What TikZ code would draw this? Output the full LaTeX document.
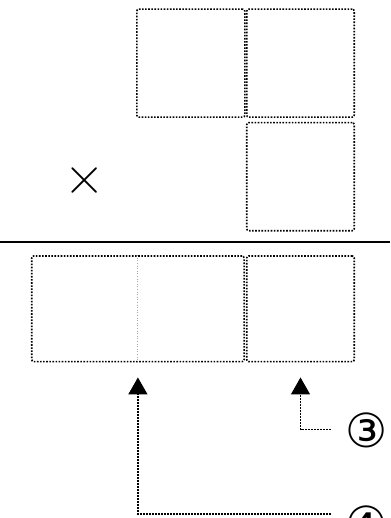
\documentclass[tikz,border=0pt]{standalone}
\usepackage{fontspec}
\newfontfamily\symfont{DejaVu Sans}
\usetikzlibrary{arrows.meta,positioning,calc}

\begin{document}
\begin{tikzpicture}[
  x=1pt, y=-1pt,
  sq/.style={draw, rectangle, rounded corners=2pt, line width=1.6pt,
             dash pattern=on 1.6pt off 1.5pt, inner sep=0pt},
  lnk/.style={-{Triangle[length=17pt,width=19pt]}, line width=1.4pt,
              dash pattern=on 1.4pt off 1.6pt, shorten >=15pt},
  num/.style={font=\symfont\fontsize{47}{47}\selectfont, inner sep=0pt},
]
\useasboundingbox (0,0) rectangle (390,518);
% top arrangement
\node[sq, minimum width=108pt, minimum height=108pt] (TL) at (190.8,63.2) {};
\node[sq, minimum width=107.5pt, minimum height=108pt] (TR) at (300.5,63.2) {};
\node[sq, minimum width=107.5pt, minimum height=108pt] (BR) at (300.5,176.7) {};
\node[font=\fontsize{56}{56}\selectfont, inner sep=0pt] (X) at (84.5,180.5) {×};
% separator
\draw[line width=2.2pt] (0,241.8) -- (390,241.8);
% bottom arrangement
\node[sq, minimum width=212.3pt, minimum height=105.7pt] (L) at (137.9,308.8) {};
\node[sq, minimum width=107.5pt, minimum height=105.7pt] (R) at (300.5,308.8) {};
\draw[line width=1pt, gray!70, dash pattern=on 1pt off 1.6pt] (L.north) -- (L.south);
% labels
\node[num] (n3) at (367,430.5) {③};
\node[num] (n4) at (367,523) {④};
\coordinate (c3) at (330.7,429.3);
\coordinate (c4) at (330.7,514);
\draw[lnk] (c3) -| (R.south);
\draw[lnk] (c4) -| (L.south);
\end{tikzpicture}
\end{document}
